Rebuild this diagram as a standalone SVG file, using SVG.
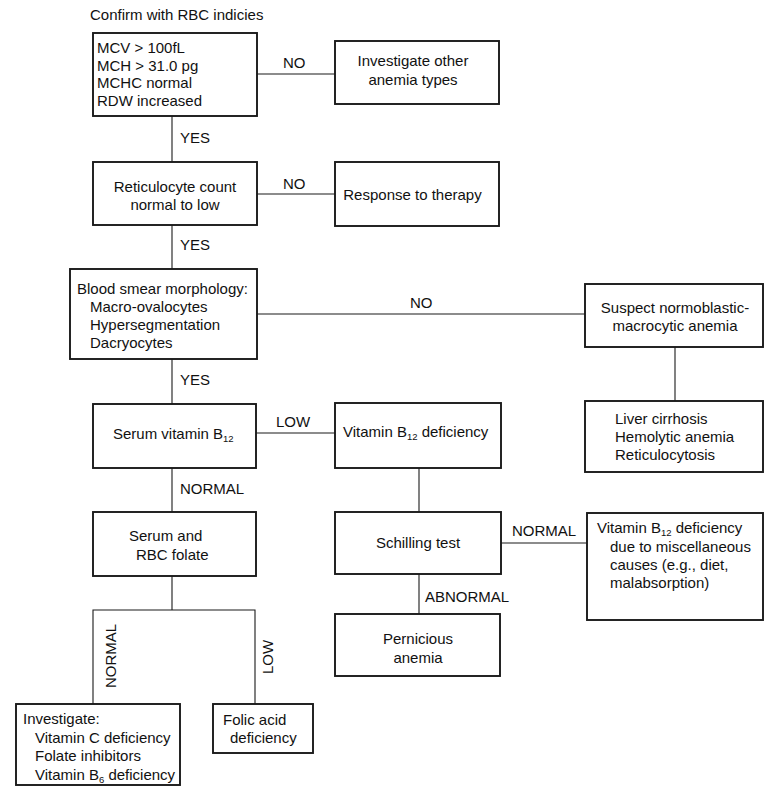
<svg xmlns="http://www.w3.org/2000/svg" width="770" height="787" viewBox="0 0 770 787">
  <style>
    .box { fill: #ffffff; stroke: #1a1a1a; stroke-width: 1.9; }
    .wire { fill: none; stroke: #1a1a1a; stroke-width: 1.1; }
    text { font-family: "Liberation Sans", Arial, Helvetica, sans-serif; font-size: 15px; fill: #111111; }
    .mid { text-anchor: middle; }
    .sub { font-size: 9.5px; }
  </style>
  <rect width="770" height="787" fill="#ffffff"/>

  <text x="90" y="20">Confirm with RBC indicies</text>

  <!-- connectors and their labels -->
  <g id="connectors">
    <path class="wire" d="M257 74 H335"/>
    <path class="wire" d="M172 116 V162"/>
    <path class="wire" d="M257 194 H335"/>
    <path class="wire" d="M172 225 V269"/>
    <path class="wire" d="M257 314 H585"/>
    <path class="wire" d="M675 347 V401"/>
    <path class="wire" d="M172 359 V404"/>
    <path class="wire" d="M256 433 H335"/>
    <path class="wire" d="M172 468 V512"/>
    <path class="wire" d="M419 468 V512"/>
    <path class="wire" d="M501 543 H587"/>
    <path class="wire" d="M419 574 V614"/>
    <path class="wire" d="M172 576 V610 M93 704 V610 H255 V704"/>

    <text x="283" y="68">NO</text>
    <text x="180" y="143">YES</text>
    <text x="283" y="189">NO</text>
    <text x="180" y="250">YES</text>
    <text x="410" y="308">NO</text>
    <text x="180" y="385">YES</text>
    <text x="276" y="427">LOW</text>
    <text x="180" y="494">NORMAL</text>
    <text x="512" y="536">NORMAL</text>
    <text x="425" y="602">ABNORMAL</text>
    <text transform="translate(116 688) rotate(-90)">NORMAL</text>
    <text transform="translate(273 674) rotate(-90)">LOW</text>
  </g>

  <g id="indices">
    <rect class="box" x="93" y="33" width="164" height="83"/>
    <text x="97" y="53">MCV &gt; 100fL</text>
    <text x="97" y="70.5">MCH &gt; 31.0 pg</text>
    <text x="97" y="88">MCHC normal</text>
    <text x="97" y="105.5">RDW increased</text>
  </g>

  <g id="other-anemia">
    <rect class="box" x="335" y="41" width="164" height="63"/>
    <text class="mid" x="413" y="66">Investigate other</text>
    <text class="mid" x="413" y="85">anemia types</text>
  </g>

  <g id="reticulocyte">
    <rect class="box" x="93" y="162" width="164" height="63"/>
    <text class="mid" x="175" y="191.5">Reticulocyte count</text>
    <text class="mid" x="175" y="209.5">normal to low</text>
  </g>

  <g id="therapy">
    <rect class="box" x="335" y="162" width="164" height="64"/>
    <text class="mid" x="412.5" y="199.5">Response to therapy</text>
  </g>

  <g id="smear">
    <rect class="box" x="70" y="269" width="187" height="90"/>
    <text x="77" y="294">Blood smear morphology:</text>
    <text x="90" y="312">Macro-ovalocytes</text>
    <text x="90" y="330">Hypersegmentation</text>
    <text x="90" y="348">Dacryocytes</text>
  </g>

  <g id="normoblastic">
    <rect class="box" x="585" y="284" width="178" height="63"/>
    <text class="mid" x="675" y="313">Suspect normoblastic-</text>
    <text class="mid" x="675" y="331">macrocytic anemia</text>
  </g>

  <g id="other-causes">
    <rect class="box" x="585" y="401" width="178" height="71"/>
    <text x="615" y="424">Liver cirrhosis</text>
    <text x="615" y="442">Hemolytic anemia</text>
    <text x="615" y="460">Reticulocytosis</text>
  </g>

  <g id="serum-b12">
    <rect class="box" x="93" y="404" width="163" height="64"/>
    <text x="113" y="439">Serum vitamin B<tspan class="sub" dy="3">12</tspan></text>
  </g>

  <g id="b12-deficiency">
    <rect class="box" x="335" y="403" width="166" height="65"/>
    <text x="343" y="437">Vitamin B<tspan class="sub" dy="3">12</tspan><tspan dy="-3"> deficiency</tspan></text>
  </g>

  <g id="folate">
    <rect class="box" x="93" y="512" width="163" height="64"/>
    <text x="129" y="541">Serum and</text>
    <text x="136" y="560">RBC folate</text>
  </g>

  <g id="schilling">
    <rect class="box" x="335" y="512" width="166" height="62"/>
    <text class="mid" x="418" y="548">Schilling test</text>
  </g>

  <g id="misc-causes">
    <rect class="box" x="587" y="513" width="176" height="107"/>
    <text x="597" y="533">Vitamin B<tspan class="sub" dy="3">12</tspan><tspan dy="-3"> deficiency</tspan></text>
    <text x="610" y="552">due to miscellaneous</text>
    <text x="610" y="570">causes (e.g., diet,</text>
    <text x="610" y="588">malabsorption)</text>
  </g>

  <g id="pernicious">
    <rect class="box" x="335" y="614" width="165" height="62"/>
    <text class="mid" x="418" y="644">Pernicious</text>
    <text class="mid" x="418" y="663">anemia</text>
  </g>

  <g id="investigate">
    <rect class="box" x="16" y="704" width="164" height="81"/>
    <text x="23" y="724">Investigate:</text>
    <text x="35" y="742.5">Vitamin C deficiency</text>
    <text x="35" y="761">Folate inhibitors</text>
    <text x="35" y="779.5">Vitamin B<tspan class="sub" dy="3">6</tspan><tspan dy="-3"> deficiency</tspan></text>
  </g>

  <g id="folic-acid">
    <rect class="box" x="213" y="704" width="100" height="49"/>
    <text x="223" y="725">Folic acid</text>
    <text x="230" y="743">deficiency</text>
  </g>
</svg>
